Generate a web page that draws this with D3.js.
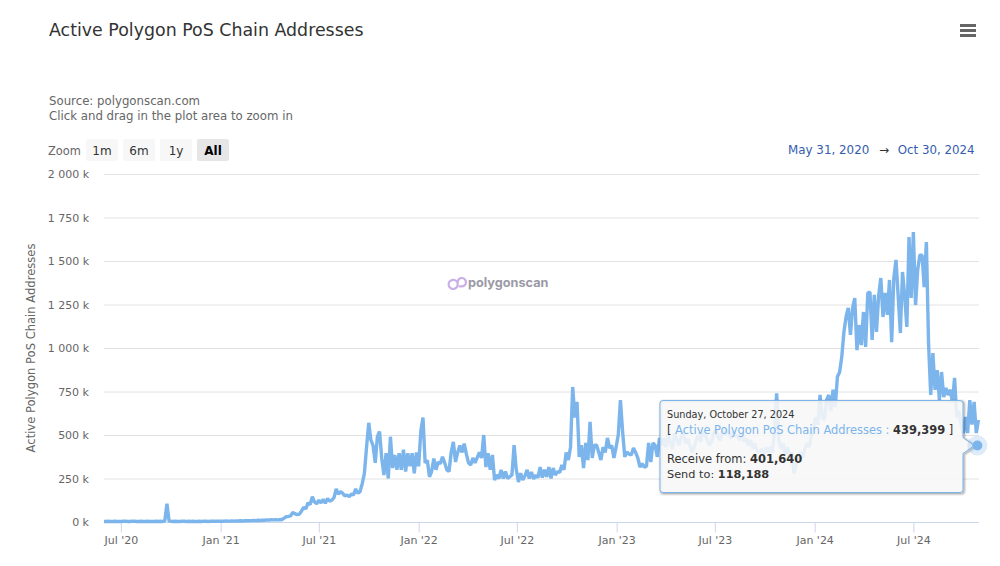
<!DOCTYPE html>
<html>
<head>
<meta charset="utf-8">
<script src="https://cdn.jsdelivr.net/npm/d3@7"></script>
<style>
html,body{margin:0;padding:0;background:#fff;overflow:hidden}
text{font-family:"DejaVu Sans",Verdana,sans-serif}
</style>
</head>
<body>
<svg id="chart" width="1000" height="566"></svg>
<script>
const chartTitle = "Active Polygon PoS Chain Addresses";
const subtitleLines = ["Source: polygonscan.com", "Click and drag in the plot area to zoom in"];
const zoomButtons = ["1m", "6m", "1y", "All"];
const rangeStart = "May 31, 2020";
const rangeEnd = "Oct 30, 2024";
const firstDay = "2020-05-31";
const lastDay = "2024-10-30";
const sampleStepDays = 4;
const yTicks = [0, 250, 500, 750, 1000, 1250, 1500, 1750, 2000];
const xTickDates = ["2020-07-01","2021-01-01","2021-07-01","2022-01-01","2022-07-01","2023-01-01","2023-07-01","2024-01-01","2024-07-01"];
const hoverDay = "2024-10-27";
const hoverValue = 439.399;
// Active addresses in thousands, one reading every 4 days
const activeAddresses = [
3,3,4,3,3,4,3,3,3,4,
4,3,3,5,4,3,3,4,3,3,
4,3,3,3,4,3,4,3,5,105,
6,4,3,4,3,3,5,4,3,4,
3,4,3,3,4,3,5,4,3,4,
4,5,4,4,5,4,6,5,5,6,
5,6,6,7,6,7,8,7,8,9,
8,10,9,11,10,12,11,13,12,13,
12,14,13,22,30,32,35,55,48,42,
45,62,85,75,110,100,145,115,105,125,
110,130,108,135,120,125,140,190,160,175,
165,150,155,145,160,155,190,165,175,220,
280,430,570,470,440,340,490,520,365,270,
395,250,490,310,385,300,395,300,415,290,
395,320,395,280,400,320,520,600,340,355,
260,290,365,300,345,335,375,340,300,290,
400,460,345,400,440,400,450,390,340,328,
368,340,370,400,368,500,316,395,300,385,
241,270,250,300,250,290,250,260,270,442,
300,230,280,241,265,300,250,287,247,270,
255,316,255,300,260,316,250,310,270,290,
285,328,300,400,356,430,776,600,690,374,
442,310,454,356,575,368,442,442,400,356,
430,400,483,425,440,368,430,500,700,520,
374,402,390,385,425,400,368,316,335,316,
320,454,345,454,440,374,483,440,480,430,
500,460,420,510,470,440,490,520,450,480,
440,400,430,470,500,460,520,500,470,440,
460,510,530,490,470,520,500,530,510,480,
520,490,500,470,510,460,480,440,470,420,
450,410,400,420,390,430,400,430,400,520,
740,470,420,450,390,430,370,400,280,330,
380,400,370,420,454,430,500,546,600,560,
730,600,586,700,730,640,760,660,835,860,
948,1092,1180,1230,1075,1230,1287,988,1132,1017,
1207,1006,1316,1322,1046,1305,1092,1300,1402,1178,
1316,1190,1391,1034,1402,1506,1300,1086,1437,1300,
1121,1638,1287,1667,1247,1450,1534,1534,1350,1609,
1029,730,971,759,873,701,862,718,770,730,
760,690,828,600,640,560,510,603,511,701,
560,690,511,586
];

const parse = d3.utcParse("%Y-%m-%d");
const svg = d3.select("#chart");
const x = d3.scaleUtc().domain([parse(firstDay), parse(lastDay)]).range([104, 979]);
const y = d3.scaleLinear().domain([0, 2000]).range([522, 174]);
const points = activeAddresses.map((v, i) => ({date: d3.utcDay.offset(parse(firstDay), i * sampleStepDays), v}));
const grey = "#666666";

// Title + subtitle
svg.append("text").attr("x", 49).attr("y", 36).attr("font-size", 17.4).attr("fill", "#333").text(chartTitle);
subtitleLines.forEach((t, i) => svg.append("text").attr("x", 49).attr("y", 105 + i * 15).attr("font-size", 11.75).attr("fill", grey).text(t));

// Export menu icon
[25.5, 30.5, 35.5].forEach(cy => svg.append("line").attr("x1", 960).attr("x2", 976).attr("y1", cy).attr("y2", cy).attr("stroke", grey).attr("stroke-width", 3));

// Range selector
svg.append("text").attr("x", 48).attr("y", 155).attr("font-size", 11.4).attr("fill", grey).text("Zoom");
const btn = svg.append("g").selectAll("g").data(zoomButtons).join("g").attr("transform", (d, i) => `translate(${86 + i * 37},139)`);
btn.append("rect").attr("width", 32).attr("height", 22).attr("rx", 2).attr("fill", d => d === "All" ? "#e6e6e6" : "#f7f7f7");
btn.append("text").attr("x", 16).attr("y", 16).attr("text-anchor", "middle").attr("font-size", 12)
  .attr("font-weight", d => d === "All" ? "bold" : "normal").attr("fill", d => d === "All" ? "#000" : "#333").text(d => d);
const rangeColor = "#335cad";
svg.append("text").attr("x", 788).attr("y", 154).attr("font-size", 11.9).attr("fill", rangeColor).text(rangeStart);
svg.append("text").attr("x", 884).attr("y", 154).attr("text-anchor", "middle").attr("font-size", 12).attr("fill", "#333").text("→");
svg.append("text").attr("x", 974.5).attr("y", 154).attr("text-anchor", "end").attr("font-size", 11.8).attr("fill", rangeColor).text(rangeEnd);

// Y axis
const yAxis = d3.axisLeft(y).tickValues(yTicks).tickSize(0).tickPadding(0)
  .tickFormat(d => d3.format(",")(d).replace(",", " ") + " k");
const gy = svg.append("g").attr("transform", "translate(89,0)").call(yAxis);
gy.select(".domain").remove();
gy.selectAll("text").attr("font-size", 11).attr("fill", grey).style("font-family", '"DejaVu Sans"');
svg.append("g").selectAll("line").data(yTicks.filter(d => d > 0)).join("line")
  .attr("x1", 104).attr("x2", 979).attr("y1", d => y(d) + .5).attr("y2", d => y(d) + .5).attr("stroke", "#e2e2e2");
svg.append("text").attr("transform", "translate(35,348) rotate(-90)").attr("text-anchor", "middle").attr("font-size", 11.55).attr("fill", grey).text(chartTitle);

// X axis
const xAxis = d3.axisBottom(x).tickValues(xTickDates.map(parse)).tickSize(10).tickPadding(4).tickFormat(d3.utcFormat("%b '%y"));
const gx = svg.append("g").attr("transform", "translate(0,522.5)").call(xAxis);
gx.select(".domain").attr("stroke", "#ccd6eb").attr("d", "M104,0H979");
gx.selectAll("line").attr("stroke", "#ccd6eb");
gx.selectAll("text").attr("font-size", 11).attr("fill", grey).style("font-family", '"DejaVu Sans"');

// Watermark
const wm = svg.append("g").attr("transform", "translate(448,276)").attr("fill", "none").attr("stroke", "#c9aee8").attr("stroke-width", 2.2).attr("stroke-linecap", "round");
wm.append("path").attr("d", "M8.5 5.2 A4.6 4.6 0 1 0 9.6 9.6 L9.6 6");
wm.append("path").attr("d", "M9.6 6 A4.2 4.2 0 1 1 13.5 10.4 L11.6 10.4");
svg.append("text").attr("x", 468).attr("y", 287).attr("font-size", 12.7).attr("font-weight", "bold").attr("fill", "#9a9aa6").style("font-family", "Inter, sans-serif").text("polygonscan");

// Series
const lineGen = d3.line().x(d => x(d.date)).y(d => y(d.v)).curve(d3.curveLinear);
svg.append("path").datum(points).attr("d", lineGen).attr("fill", "none").attr("stroke", "#7cb5ec").attr("stroke-width", 3.4).attr("stroke-linejoin", "bevel");

// Tooltip
const tipX = 660, tipY = 400.5, tipW = 303, tipH = 92;
const hx = x(parse(hoverDay)), hy = y(hoverValue);
const tipPath = `M${tipX + 3},${tipY} H${tipX + tipW - 3} Q${tipX + tipW},${tipY} ${tipX + tipW},${tipY + 3} V${hy - 8} L${hx - 3},${hy} L${tipX + tipW},${hy + 8} V${tipY + tipH - 3} Q${tipX + tipW},${tipY + tipH} ${tipX + tipW - 3},${tipY + tipH} H${tipX + 3} Q${tipX},${tipY + tipH} ${tipX},${tipY + tipH - 3} V${tipY + 3} Q${tipX},${tipY} ${tipX + 3},${tipY} Z`;
[[5, .05], [3, .1], [1, .15]].forEach(([w, o]) => svg.append("path").attr("d", tipPath).attr("transform", "translate(1,1)").attr("fill", "none").attr("stroke", "#000").attr("stroke-opacity", o).attr("stroke-width", w));
svg.append("path").attr("d", tipPath).attr("fill", "#f7f7f7").attr("fill-opacity", .88).attr("stroke", "#7cb5ec").attr("stroke-width", 1);

svg.append("circle").attr("cx", hx).attr("cy", hy).attr("r", 10).attr("fill", "#7cb5ec").attr("fill-opacity", .25);
svg.append("circle").attr("cx", hx).attr("cy", hy).attr("r", 5).attr("fill", "#7cb5ec");

const tipText = svg.append("g").attr("fill", "#333");
tipText.append("text").attr("x", 667).attr("y", 418).attr("font-size", 9.7).text("Sunday, October 27, 2024");
const l2 = tipText.append("text").attr("x", 667).attr("y", 433.5).attr("font-size", 11.45);
l2.append("tspan").text("[ ");
l2.append("tspan").attr("fill", "#7cb5ec").text(chartTitle + " : ");
l2.append("tspan").attr("font-weight", "bold").text(d3.format(",")(Math.round(hoverValue * 1000)));
l2.append("tspan").text(" ]");
const l3 = tipText.append("text").attr("x", 667).attr("y", 463).attr("font-size", 11.5);
l3.append("tspan").text("Receive from: ");
l3.append("tspan").attr("font-weight", "bold").text("401,640");
const l4 = tipText.append("text").attr("x", 667).attr("y", 478).attr("font-size", 11.3);
l4.append("tspan").text("Send to: ");
l4.append("tspan").attr("font-weight", "bold").text("118,188");
</script>
</body>
</html>
